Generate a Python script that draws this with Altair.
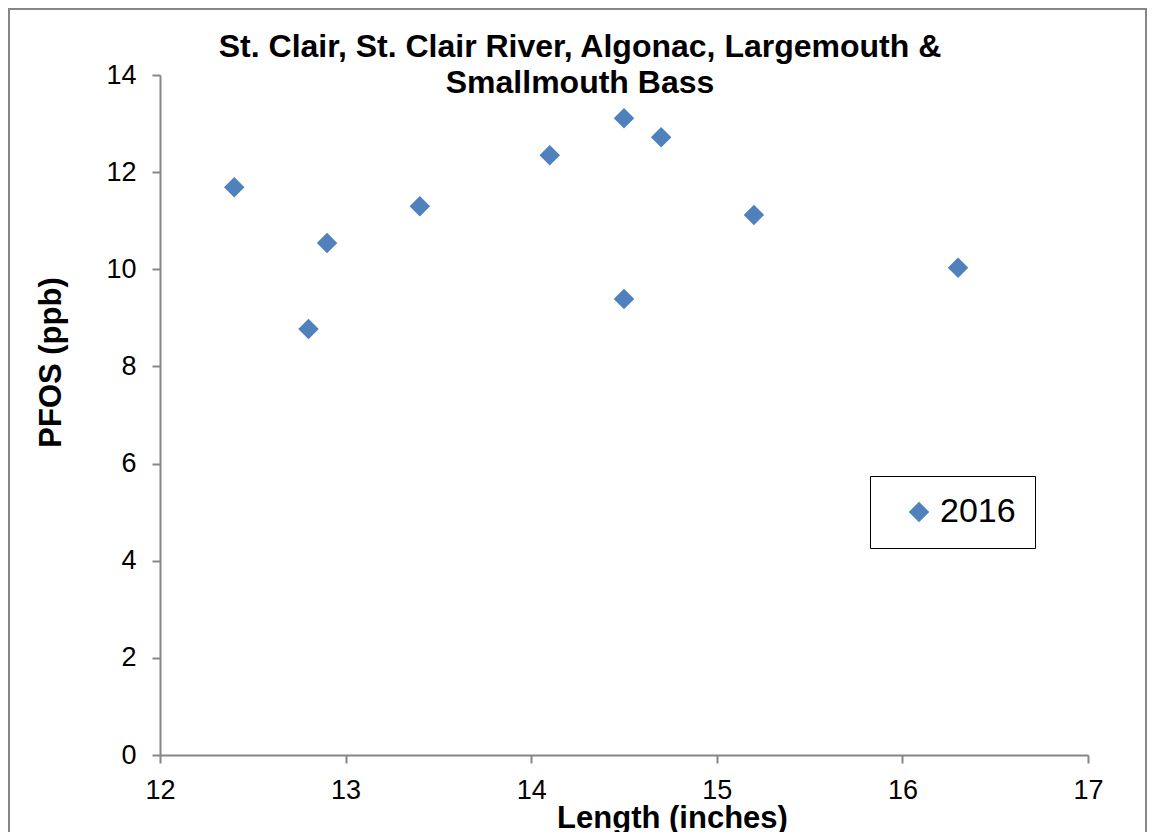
import altair as alt
import pandas as pd

length_in = [12.4, 12.8, 12.9, 13.4, 14.1, 14.5, 14.5, 14.7, 15.2, 16.3]
pfos_ppb = [11.69, 8.77, 10.54, 11.30, 12.35, 13.11, 9.39, 12.72, 11.12, 10.03]
series = ["2016"] * len(length_in)

x_ticks = [12, 13, 14, 15, 16, 17]
y_ticks = [0, 2, 4, 6, 8, 10, 12, 14]

df = pd.DataFrame({"Length": length_in, "PFOS": pfos_ppb, "Year": series})

FONT = "Liberation Sans"
AX = "#868686"
BLUE = "#4F81BD"

points = alt.Chart(df).mark_point(
    shape="diamond", filled=True, size=420, opacity=1, strokeWidth=0
).encode(
    x=alt.X(
        "Length:Q",
        scale=alt.Scale(domain=[12, 17], nice=False, zero=False),
        axis=alt.Axis(
            values=x_ticks, title="Length (inches)", grid=False, labelFlush=False,
            domainColor=AX, domainWidth=2, tickColor=AX, tickWidth=2, tickSize=8,
            labelFont=FONT, labelFontSize=27, labelColor="black", labelPadding=14,
            titleFont=FONT, titleFontSize=31, titleFontWeight="bold", titleColor="black",
            titleX=512, titleY=63, titleBaseline="middle", titleAlign="center",
        ),
    ),
    y=alt.Y(
        "PFOS:Q",
        scale=alt.Scale(domain=[0, 14], nice=False),
        axis=alt.Axis(
            values=y_ticks, title="PFOS (ppb)", grid=False, labelFlush=False,
            domainColor=AX, domainWidth=2, tickColor=AX, tickWidth=2, tickSize=8,
            labelFont=FONT, labelFontSize=27, labelColor="black", labelPadding=16,
            titleFont=FONT, titleFontSize=31, titleFontWeight="bold", titleColor="black",
            titleX=-109, titleY=287, titleAngle=270, titleBaseline="middle", titleAlign="center",
        ),
    ),
    color=alt.Color(
        "Year:N",
        scale=alt.Scale(range=[BLUE]),
        legend=alt.Legend(
            title=None, orient="none", legendX=710, legendY=401,
            strokeColor="black", padding=19, symbolType="diamond", symbolSize=420,
            symbolStrokeWidth=0, symbolOffset=13, labelOffset=4,
            labelFont=FONT, labelFontSize=34, labelColor="black",
        ),
    ),
)

frame = alt.Chart(pd.DataFrame({"k": [0]})).mark_rect(
    filled=False, stroke=AX, strokeWidth=2
).encode(
    x=alt.value(-151), x2=alt.value(986), y=alt.value(-66), y2=alt.value(800)
)

chart = alt.layer(frame, points).properties(
    width=928,
    height=680,
    title=alt.TitleParams(
        ["St. Clair, St. Clair River, Algonac, Largemouth &", "Smallmouth Bass"],
        font=FONT, fontSize=32, fontWeight="bold", color="black",
        anchor="middle", lineHeight=36, dx=-44, dy=92, offset=0,
    ),
    autosize=alt.AutoSizeParams(type="none"),
    padding={"left": 152, "top": 67, "right": 60, "bottom": 77},
).configure_view(stroke=None)

chart.save("out.html", embed_options={"renderer": "svg", "actions": False})
